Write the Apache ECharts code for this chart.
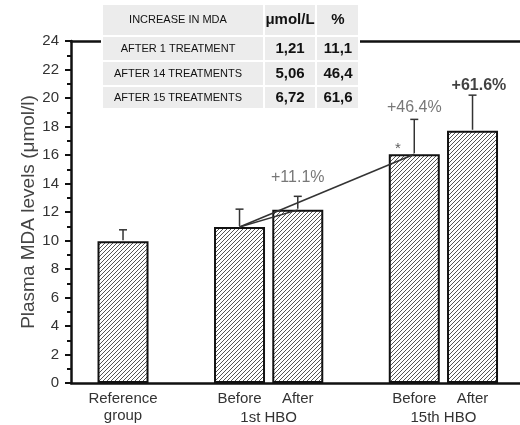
<!DOCTYPE html>
<html><head><meta charset="utf-8">
<script src="https://cdn.jsdelivr.net/npm/echarts@6/dist/echarts.min.js"></script>
<style>html,body{margin:0;padding:0;background:#fff}#c{width:520px;height:425px}</style>
</head><body><div id="c"></div>
<script>
// ---- data ----
const categories = ['Reference\ngroup', 'Before', 'After', 'Before', 'After'];
const slots = [1, 3, 4, 6, 7];
const groupLabels = ['1st HBO', '15th HBO'];
const groupSlots = [3.5, 6.5];
const means = [9.95, 10.95, 12.15, 16.05, 17.7];
const sdUp = [0.8, 1.25, 0.95, 2.45, 2.5];
const yTickLabels = [0, 2, 4, 6, 8, 10, 12, 14, 16, 18, 20, 22, 24];
const annotTexts = ['+11.1%', '+46.4%', '+61.6%', '*'];
const annotX = [4, 6, 7.11, 5.72];
const annotY = [14.4, 19.3, 20.9, 16.45];
const trendFrom = [1, 1];
const trendTo = [2, 3];
const tableHeader = ['INCREASE IN MDA', 'μmol/L', '%'];
const tableCol1 = ['AFTER 1 TREATMENT', 'AFTER 14 TREATMENTS', 'AFTER 15 TREATMENTS'];
const tableCol2 = ['1,21', '5,06', '6,72'];
const tableCol3 = ['11,1', '46,4', '61,6'];

// ---- hatch pattern ----
const pc = document.createElement('canvas');
pc.width = 4; pc.height = 4;
const g = pc.getContext('2d');
g.fillStyle = '#fff'; g.fillRect(0, 0, 4, 4);
g.strokeStyle = '#555'; g.lineWidth = 1;
g.beginPath();
g.moveTo(-1, 5); g.lineTo(5, -1);
g.moveTo(-1, 1); g.lineTo(1, -1);
g.moveTo(3, 5); g.lineTo(5, 3);
g.stroke();

const FONT = 'Liberation Sans';
const xMin = 0.107, xMax = 7.815;

const barData = slots.map((s, i) => [s, means[i]]);
const errData = slots.map((s, i) => [s, means[i], means[i] + sdUp[i]]);
const trendData = trendFrom.map((f, i) => [slots[f], means[f], slots[trendTo[i]], means[trendTo[i]]]);
const annotData = annotTexts.map((t, i) => ({
  value: [annotX[i], annotY[i]],
  label: i === 2 ? {fontWeight: 'bold', color: '#111'} : (i === 3 ? {fontSize: 15, color: '#333'} : {})
}));
const labelMap = {};
slots.forEach((s, i) => { labelMap[s] = categories[i]; });
const groupMap = {};
groupSlots.forEach((s, i) => { groupMap[s] = groupLabels[i]; });

// ---- table graphic ----
const tblX = [103, 265, 317], tblW = [160, 50, 41];
const tblY = [5, 37, 62, 87], tblH = [30, 23, 23, 21];
const textCx = [178, 290, 338];
const tableEls = [{type: 'rect', shape: {x: 101, y: 3, width: 259, height: 107}, style: {fill: '#fff'}, z: 100}];
const rowsTxt = [tableHeader].concat(tableCol1.map((t, i) => [t, tableCol2[i], tableCol3[i]]));
rowsTxt.forEach((row, r) => {
  row.forEach((txt, c) => {
    tableEls.push({type: 'rect', shape: {x: tblX[c], y: tblY[r], width: tblW[c], height: tblH[r]}, style: {fill: '#ececec'}, z: 101});
    tableEls.push({type: 'text', x: textCx[c], y: tblY[r] + tblH[r] / 2, z: 102,
      style: {text: txt, fill: '#111', align: 'center', verticalAlign: 'middle',
        font: (c === 0 ? 'normal 11px ' : 'bold 15px ') + FONT}});
  });
});

const chart = echarts.init(document.getElementById('c'), null, {renderer: 'canvas'});
chart.setOption({
  animation: false,
  backgroundColor: '#fff',
  grid: {left: 71, right: 0, top: 41, bottom: 42},
  xAxis: [
    {type: 'value', min: xMin, max: xMax, position: 'bottom',
      axisLine: {show: true, lineStyle: {color: '#111', width: 2.5}},
      axisTick: {show: false}, splitLine: {show: false},
      axisLabel: {customValues: slots, formatter: v => labelMap[v] || '', margin: 7,
        fontSize: 15, color: '#333', fontFamily: FONT, lineHeight: 17, verticalAlign: 'top'}},
    {type: 'value', min: xMin, max: xMax, position: 'bottom',
      axisLine: {show: false}, axisTick: {show: false}, splitLine: {show: false},
      axisLabel: {customValues: groupSlots, formatter: v => groupMap[v] || '', margin: 27,
        fontSize: 15, color: '#333', fontFamily: FONT, verticalAlign: 'top'}},
    {type: 'value', min: xMin, max: xMax, position: 'top',
      axisLine: {show: true, lineStyle: {color: '#111', width: 2.5}},
      axisTick: {show: false}, axisLabel: {show: false}, splitLine: {show: false}}
  ],
  yAxis: {type: 'value', min: yTickLabels[0], max: yTickLabels[yTickLabels.length - 1], interval: 2,
    name: 'Plasma MDA levels (μmol/l)', nameLocation: 'middle', nameGap: 33, nameMoveOverlap: false,
    nameTextStyle: {fontSize: 19, color: '#444', fontFamily: FONT},
    axisLine: {show: true, lineStyle: {color: '#111', width: 2.5}},
    axisTick: {show: true, length: 6, lineStyle: {color: '#111', width: 2}},
    minorTick: {show: true, splitNumber: 2, length: 4, lineStyle: {color: '#111', width: 2}},
    splitLine: {show: false},
    axisLabel: {fontSize: 15, color: '#333', fontFamily: FONT, margin: 12}},
  series: [
    {type: 'bar', xAxisIndex: 0, data: barData, barWidth: 51,
      itemStyle: {color: {image: pc, repeat: 'repeat'}, borderColor: '#111', borderWidth: 2}},
    {type: 'custom', xAxisIndex: 0, data: errData, z: 5,
      renderItem: (params, api) => {
        const b = api.coord([api.value(0), api.value(1)]);
        const t = api.coord([api.value(0), api.value(2)]);
        const st = {stroke: '#333', lineWidth: 1.5};
        return {type: 'group', children: [
          {type: 'line', shape: {x1: b[0], y1: b[1] - 1, x2: t[0], y2: t[1]}, style: st},
          {type: 'line', shape: {x1: t[0] - 4, y1: t[1], x2: t[0] + 4, y2: t[1]}, style: st}
        ]};
      }},
    {type: 'custom', xAxisIndex: 0, data: trendData, z: 6,
      renderItem: (params, api) => {
        const a = api.coord([api.value(0), api.value(1)]);
        const b = api.coord([api.value(2), api.value(3)]);
        return {type: 'line', shape: {x1: a[0], y1: a[1], x2: b[0], y2: b[1]}, style: {stroke: '#333', lineWidth: 1.5}};
      }},
    {type: 'scatter', xAxisIndex: 0, data: annotData, symbolSize: 0, z: 7,
      label: {show: true, position: 'inside', formatter: p => annotTexts[p.dataIndex],
        fontSize: 16, color: '#555', fontFamily: FONT}}
  ],
  graphic: tableEls
});
</script></body></html>
